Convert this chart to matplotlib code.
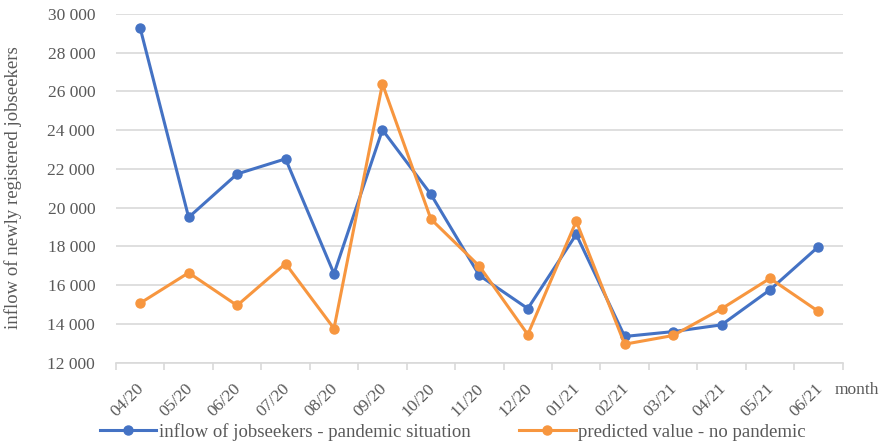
import matplotlib
matplotlib.use("Agg")
import matplotlib.pyplot as plt
import matplotlib.transforms as mtransforms
from matplotlib.ticker import FuncFormatter, FixedLocator

months = ["04/20", "05/20", "06/20", "07/20", "08/20", "09/20", "10/20", "11/20",
          "12/20", "01/21", "02/21", "03/21", "04/21", "05/21", "06/21"]
pandemic = [29270, 19500, 21740, 22520, 16590, 24020, 20690, 16500,
            14790, 18620, 13350, 13600, 13950, 15760, 17990]
predicted = [15070, 16640, 14950, 17110, 13760, 26390, 19410, 16980,
             13450, 19300, 12950, 13400, 14780, 16350, 14640]

plt.rcParams['font.family'] = ['Liberation Serif', 'DejaVu Serif']
txt = '#595959'
blue = '#4472C4'
orange = '#F7963F'

fig = plt.figure(figsize=(8.88, 4.46), dpi=100)
ax = fig.add_axes([0.1306, 0.187, 0.8184, 0.7816])

x = list(range(len(months)))
ax.plot(x, pandemic, color=blue, lw=2.2, marker='o', ms=6.5,
        label='inflow of jobseekers - pandemic situation', zorder=3)
ax.plot(x, predicted, color=orange, lw=2.2, marker='o', ms=6.5,
        label='predicted value - no pandemic', zorder=3)

ax.set_xlim(-0.5, len(months) - 0.5)
ax.set_ylim(12000, 30000)
ax.set_yticks(range(12000, 30001, 2000))
ax.yaxis.set_major_formatter(FuncFormatter(lambda v, p: f"{int(v):,}".replace(",", " ")))
ax.grid(axis='y', color='#d9d9d9', lw=1.2, zorder=0)
ax.tick_params(axis='y', length=0, pad=15, labelsize=12.5, labelcolor=txt)

ax.set_xticks(x)
ax.set_xticklabels(months, rotation=45, ha='right', rotation_mode='anchor',
                   fontsize=12.5, color=txt)
ax.tick_params(axis='x', which='major', length=0, pad=13)
offset = mtransforms.ScaledTranslation(-4 / 100, 0, fig.dpi_scale_trans)
for lbl in ax.get_xticklabels():
    lbl.set_transform(lbl.get_transform() + offset)
ax.xaxis.set_minor_locator(FixedLocator([i - 0.5 for i in range(len(months) + 1)]))
ax.tick_params(axis='x', which='minor', length=5, color='#d9d9d9', width=1.2)

for s in ['top', 'right', 'left']:
    ax.spines[s].set_visible(False)
ax.spines['bottom'].set_color('#d9d9d9')
ax.spines['bottom'].set_linewidth(1.2)

fig.text(0.015, 0.58, 'inflow of newly registered jobseekers', rotation=90,
         ha='center', va='center', fontsize=13.5, color=txt)
fig.text(0.94, 0.125, 'month', ha='left', va='center', fontsize=12.5, color=txt)

leg = fig.legend(loc='center', bbox_to_anchor=(0.51, 0.032), ncol=2, frameon=False,
                 fontsize=13.5, handlelength=3.0, columnspacing=2.6, handletextpad=0.15)
for t in leg.get_texts():
    t.set_color(txt)

fig.savefig('out.png', dpi=100)
